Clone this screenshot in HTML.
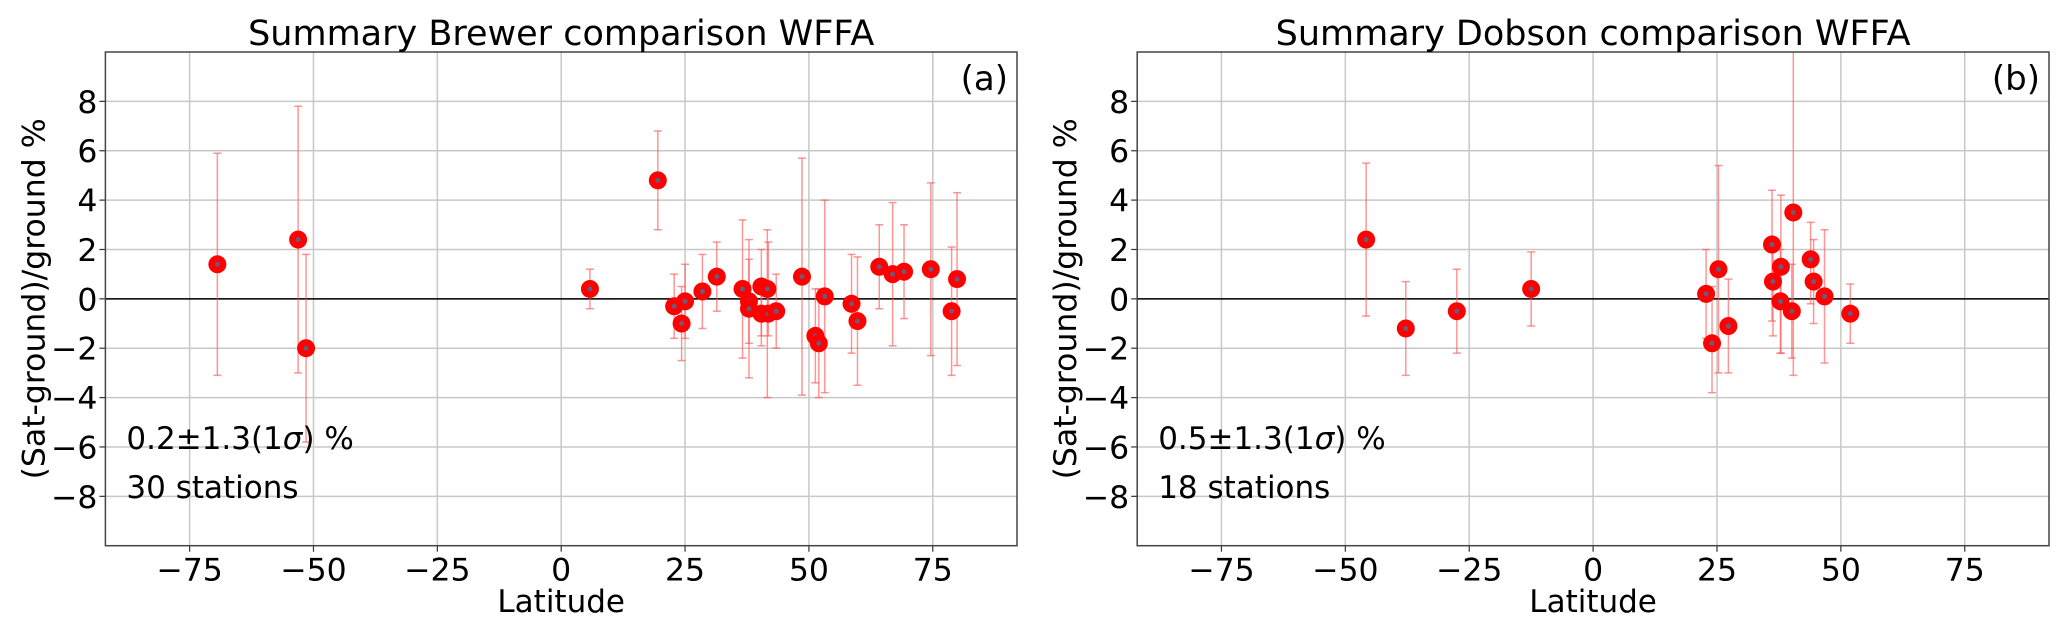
<!DOCTYPE html>
<html><head><meta charset="utf-8"><style>
html,body{margin:0;padding:0;background:#fff}
svg text{font-family:"DejaVu Sans","Liberation Sans",sans-serif;fill:#000}
</style></head><body>
<svg id="chart" width="2067" height="629" viewBox="0 0 2067 629" xmlns="http://www.w3.org/2000/svg"></svg>
<script>
const xTicks = [-75, -50, -25, 0, 25, 50, 75];
const yTicks = [-8, -6, -4, -2, 0, 2, 4, 6, 8];
const brewerLat = [-69.4, -53.1, -51.5, 5.8, 19.5, 22.8, 24.3, 25.0, 28.5, 31.4, 36.6, 37.9, 37.9, 40.4, 40.4, 41.6, 41.8, 43.4, 48.6, 51.3, 52.0, 53.2, 58.6, 59.8, 64.2, 66.9, 69.2, 74.6, 78.8, 79.9];
const brewerVal = [1.4, 2.4, -2.0, 0.4, 4.8, -0.3, -1.0, -0.1, 0.3, 0.9, 0.4, -0.1, -0.4, 0.5, -0.6, 0.4, -0.6, -0.5, 0.9, -1.5, -1.8, 0.1, -0.2, -0.9, 1.3, 1.0, 1.1, 1.2, -0.5, 0.8];
const brewerHi = [5.9, 7.8, 1.8, 1.2, 6.8, 1.0, 0.5, 1.4, 1.8, 2.3, 3.2, 2.4, 1.6, 2.0, 0.8, 2.8, 2.3, 1.0, 5.7, 0.4, 0.4, 4.0, 1.8, 1.7, 3.0, 3.9, 3.0, 4.7, 2.1, 4.3];
const brewerLo = [-3.1, -3.0, -5.8, -0.4, 2.8, -1.6, -2.5, -1.6, -1.2, -0.5, -2.4, -3.2, -1.8, -1.9, -1.5, -4.0, -1.5, -2.0, -3.9, -3.4, -4.0, -3.8, -2.2, -3.5, -0.4, -1.9, -0.8, -2.3, -3.1, -2.7];
const dobsonLat = [-45.8, -37.8, -27.5, -12.5, 22.8, 24.0, 25.3, 27.3, 36.1, 36.3, 37.9, 37.8, 40.4, 40.1, 43.9, 44.5, 46.7, 51.9];
const dobsonVal = [2.4, -1.2, -0.5, 0.4, 0.2, -1.8, 1.2, -1.1, 2.2, 0.7, 1.3, -0.1, 3.5, -0.5, 1.6, 0.7, 0.1, -0.6];
const dobsonHi = [5.5, 0.7, 1.2, 1.9, 2.0, 0.5, 5.4, 0.8, 4.4, 2.0, 4.2, 2.0, 11, 1.4, 3.1, 2.4, 2.8, 0.6];
const dobsonLo = [-0.7, -3.1, -2.2, -1.1, -1.6, -3.8, -3.0, -3.0, -0.9, -1.5, -2.2, -2.2, -3.1, -2.4, -0.2, -1.0, -2.6, -1.8];

const NS = "http://www.w3.org/2000/svg";
const svg = document.getElementById('chart');
function mk(tag, attrs, parent) {
  const e = document.createElementNS(NS, tag);
  for (const k in attrs) e.setAttribute(k, attrs[k]);
  (parent || svg).appendChild(e);
  return e;
}

function panel(cfg) {
  const L = cfg.left, R = cfg.right, T = 52, B = 545.7;
  const xMin = -92, xMax = 92, yMin = -10, yMax = 10;
  const xs = v => L + (v - xMin) / (xMax - xMin) * (R - L);
  const ys = v => B - (v - yMin) / (yMax - yMin) * (B - T);
  const g = mk('g', {});
  
  
  const clipId = 'clip-' + cfg.name;
  const cp = mk('clipPath', {id: clipId}, g);
  mk('rect', {x: L, y: T, width: R - L, height: B - T}, cp);
  xTicks.forEach(t => {
    const l = mk('line', {x1: xs(t), x2: xs(t), y1: T, y2: B, stroke: '#c8c8c8', 'stroke-width': 1.5}, g);
    
    
    const tk = mk('line', {x1: xs(t), x2: xs(t), y1: B, y2: B + 6, stroke: '#333', 'stroke-width': 1.2}, g);
    
    
    const tx = mk('text', {x: xs(t), y: B + 35, 'font-size': 31.5, 'text-anchor': 'middle'}, g);
    tx.textContent = t < 0 ? '\u2212' + Math.abs(t) : String(t);
    
    
  });
  yTicks.forEach(t => {
    const l = mk('line', {x1: L, x2: R, y1: ys(t), y2: ys(t), stroke: '#c8c8c8', 'stroke-width': 1.5}, g);
    
    
    const tk = mk('line', {x1: L - 6, x2: L, y1: ys(t), y2: ys(t), stroke: '#333', 'stroke-width': 1.2}, g);
    
    
    const tx = mk('text', {x: L - 8, y: ys(t) + 11.5, 'font-size': 31.5, 'text-anchor': 'end'}, g);
    tx.textContent = t < 0 ? '\u2212' + Math.abs(t) : String(t);
    
    
  });
  const z = mk('line', {x1: L, x2: R, y1: ys(0), y2: ys(0), stroke: '#000', 'stroke-width': 1.5}, g);
  
  
  const pg = mk('g', {'clip-path': 'url(#' + clipId + ')'}, g);
  cfg.lat.forEach((lat, i) => {
    const x = xs(lat);
    const eb = mk('g', {stroke: '#ff5050', 'stroke-opacity': 0.6, 'stroke-width': 1.5}, pg);
    
    
    mk('line', {x1: x, x2: x, y1: ys(cfg.hi[i]), y2: ys(cfg.lo[i])}, eb);
    mk('line', {x1: x - 4, x2: x + 4, y1: ys(cfg.hi[i]), y2: ys(cfg.hi[i])}, eb);
    mk('line', {x1: x - 4, x2: x + 4, y1: ys(cfg.lo[i]), y2: ys(cfg.lo[i])}, eb);
  });
  cfg.lat.forEach((lat, i) => {
    const c = mk('circle', {cx: xs(lat), cy: ys(cfg.val[i]), r: 9, fill: '#ff0000'}, pg);
    
    
    mk('circle', {cx: xs(lat), cy: ys(cfg.val[i]), r: 2.5, fill: '#6a5a80'}, pg);
  });
  const fr = mk('rect', {x: L, y: T, width: R - L, height: B - T, fill: 'none', stroke: '#444', 'stroke-width': 1.5}, g);
  
  
  const ti = mk('text', {x: (L + R) / 2, y: 45, 'font-size': 35, 'text-anchor': 'middle'}, g);
  ti.textContent = cfg.title;
  
  
  const pl = mk('text', {x: R - 9, y: 90, 'font-size': 34, 'text-anchor': 'end'}, g);
  pl.textContent = cfg.label;
  
  
  const xl = mk('text', {x: (L + R) / 2, y: 612, 'font-size': 31, 'text-anchor': 'middle'}, g);
  xl.textContent = 'Latitude';
  
  
  const yl = mk('text', {x: 0, y: 0, 'font-size': 31.5, 'text-anchor': 'middle', transform: 'translate(' + (L - 61) + ',' + ((T + B) / 2) + ') rotate(-90)'}, g);
  yl.textContent = '(Sat-ground)/ground %';
  
  
  const s1 = mk('text', {x: L + 21, y: 449, 'font-size': 31}, g);
  s1.innerHTML = cfg.stat + '\u00b11.3(1<tspan font-style="italic">\u03c3</tspan>) %';
  
  
  const s2 = mk('text', {x: L + 21, y: 498, 'font-size': 31}, g);
  s2.textContent = cfg.count;
  
  
}

panel({name: 'brewer-panel', left: 105.4, right: 1017, title: 'Summary Brewer comparison WFFA', label: '(a)', stat: '0.2', count: '30 stations',
  lat: brewerLat, val: brewerVal, hi: brewerHi, lo: brewerLo});
panel({name: 'dobson-panel', left: 1137.2, right: 2049, title: 'Summary Dobson comparison WFFA', label: '(b)', stat: '0.5', count: '18 stations',
  lat: dobsonLat, val: dobsonVal, hi: dobsonHi, lo: dobsonLo});
</script>
</body></html>
